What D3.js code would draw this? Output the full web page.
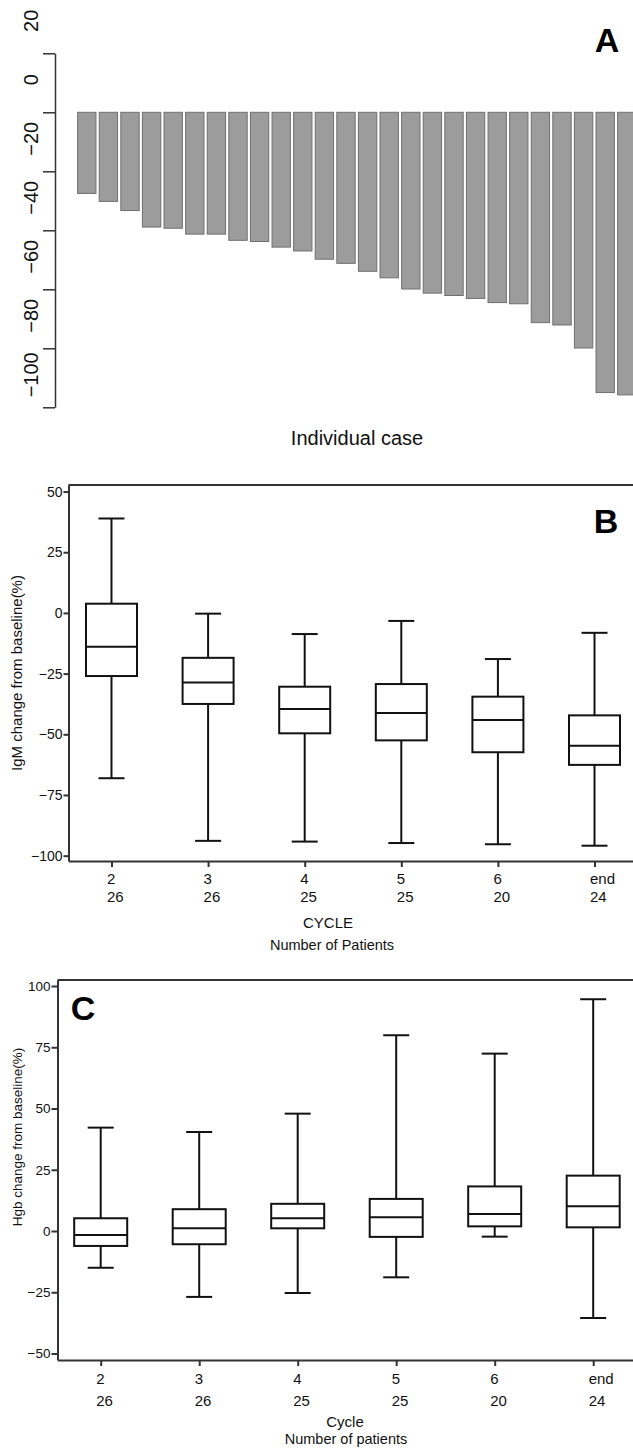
<!DOCTYPE html>
<html>
<head>
<meta charset="utf-8">
<script src="https://d3js.org/d3.v7.min.js"></script>
<style>
body { margin: 0; background: #fff; }
svg { display: block; font-family: "Liberation Sans", Arial, sans-serif; }
.axA path, .axA line { stroke: #333; stroke-width: 1.5; }
.frame path, .frame line, .edge { stroke: #333; stroke-width: 2; fill: none; }
.box line, .box rect { stroke: #111; stroke-width: 2; }
.box rect { fill: #fff; }
</style>
</head>
<body>
<script>
// panel A : IgM change per patient (%)
const caseChange = [-27.5, -30.2, -33.3, -38.9, -39.3, -41.3, -41.3, -43.4, -43.8, -45.7, -47.0, -49.8, -51.2,
                    -53.9, -56.1, -59.9, -61.3, -62.1, -63.1, -64.5, -64.9, -71.3, -72.1, -79.9, -95.0, -95.8];
const aTicks = [20, 0, -20, -40, -60, -80, -100];

// panel B : IgM change by cycle
const cycles = ["2", "3", "4", "5", "6", "end"];
const igmPatients = ["26", "26", "25", "25", "20", "24"];
const igmMin = [-68.1, -93.9, -94.2, -94.8, -95.3, -95.9];
const igmQ1  = [-26.0, -37.5, -49.6, -52.5, -57.4, -62.6];
const igmMed = [-13.9, -28.7, -39.6, -41.2, -44.1, -54.7];
const igmQ3  = [3.8, -18.5, -30.4, -29.3, -34.5, -42.2];
const igmMax = [38.9, -0.3, -8.7, -3.3, -19.0, -8.2];
const bTicks = [50, 25, 0, -25, -50, -75, -100];

// panel C : Hgb change by cycle
const hgbPatients = ["26", "26", "25", "25", "20", "24"];
const hgbMin = [-15.0, -26.9, -25.3, -18.9, -2.3, -35.5];
const hgbQ1  = [-6.1, -5.4, 1.1, -2.4, 1.9, 1.5];
const hgbMed = [-1.6, 1.1, 5.2, 5.6, 6.9, 10.1];
const hgbQ3  = [5.2, 8.9, 11.1, 13.1, 18.2, 22.6];
const hgbMax = [42.2, 40.4, 47.9, 79.9, 72.4, 94.6];
const cTicks = [100, 75, 50, 25, 0, -25, -50];

var w = 633, h = 1448;
var svg = d3.select("body").append("svg").attr("width", w).attr("height", h);
svg.append("rect").attr("width", w).attr("height", h).attr("fill", "#fff");

//////// panel A
var xA = d3.scaleBand()
  .domain(caseChange.map((d, i) => i))
  .range([76, 637.6])
  .paddingInner(0.15)
  .paddingOuter(0.075);
var yA = d3.scaleLinear().domain([-100, 20]).range([407.3, 53.3]);

svg.append("g").selectAll("rect")
  .data(caseChange)
  .join("rect")
  .attr("x", (d, i) => xA(i))
  .attr("y", yA(0))
  .attr("width", xA.bandwidth())
  .attr("height", d => yA(d) - yA(0))
  .attr("fill", "#9c9c9c")
  .attr("stroke", "#707070")
  .attr("stroke-width", 1);

var axA = svg.append("g")
  .attr("class", "axA")
  .attr("transform", "translate(55,0)")
  .call(d3.axisLeft(yA).tickValues(aTicks).tickSize(12).tickSizeOuter(0).tickFormat(d3.format("d")));
axA.selectAll("text")
  .attr("x", null).attr("dy", null)
  .attr("transform", "translate(-17,-33) rotate(-90)")
  .style("text-anchor", "middle")
  .style("font-size", "20px")
  .attr("fill", "#111");

svg.append("text").attr("x", 357).attr("y", 445)
  .style("text-anchor", "middle").style("font-size", "20px").attr("fill", "#111")
  .text("Individual case");
svg.append("text").attr("x", 607).attr("y", 52)
  .style("text-anchor", "middle").style("font-size", "34px").style("font-weight", "bold")
  .text("A");

//////// box plot helper
function boxPanel(opt) {
  var g = svg.append("g");
  var x = opt.x, y = opt.y;
  var rows = cycles.map((c, i) => ({c: c, min: opt.min[i], q1: opt.q1[i], med: opt.med[i], q3: opt.q3[i], max: opt.max[i]}));

  // frame: top edge + axes
  g.append("line").attr("class", "edge")
    .attr("x1", opt.left).attr("x2", w).attr("y1", opt.top).attr("y2", opt.top);

  var yAx = g.append("g").attr("class", "frame")
    .attr("transform", "translate(" + opt.left + ",0)")
    .call(d3.axisLeft(y).tickValues(opt.ticks).tickSize(opt.tickLen).tickPadding(opt.tickPad).tickSizeOuter(0));
  yAx.selectAll("text").style("font-size", opt.tickFont + "px").attr("fill", "#111");

  var xAx = g.append("g").attr("class", "frame")
    .attr("transform", "translate(0," + opt.bottom + ")")
    .call(d3.axisBottom(x).tickSize(6).tickSizeOuter(0).tickFormat(""));

  var box = g.selectAll("g.box").data(rows).join("g").attr("class", "box");
  box.append("line")
    .attr("x1", d => x(d.c)).attr("x2", d => x(d.c))
    .attr("y1", d => y(d.min)).attr("y2", d => y(d.max));
  box.append("line")
    .attr("x1", d => x(d.c) - opt.cap).attr("x2", d => x(d.c) + opt.cap)
    .attr("y1", d => y(d.max)).attr("y2", d => y(d.max));
  box.append("line")
    .attr("x1", d => x(d.c) - opt.cap).attr("x2", d => x(d.c) + opt.cap)
    .attr("y1", d => y(d.min)).attr("y2", d => y(d.min));
  box.append("rect")
    .attr("x", d => x(d.c) - opt.half).attr("width", opt.half * 2)
    .attr("y", d => y(d.q3)).attr("height", d => y(d.q1) - y(d.q3));
  box.append("line")
    .attr("x1", d => x(d.c) - opt.half).attr("x2", d => x(d.c) + opt.half)
    .attr("y1", d => y(d.med)).attr("y2", d => y(d.med));

  // two line category labels
  g.selectAll("text.cyc").data(cycles).join("text").attr("class", "cyc")
    .attr("x", d => x(d) - 4.5).attr("y", opt.row1)
    .style("font-size", "15px").attr("fill", "#111").text(d => d);
  g.selectAll("text.npt").data(opt.patients).join("text").attr("class", "npt")
    .attr("x", (d, i) => x(cycles[i]) - 4.5).attr("y", opt.row2)
    .style("font-size", "15px").attr("fill", "#111").text(d => d);

  g.append("text").attr("x", opt.t1x).attr("y", opt.t1y)
    .style("text-anchor", "middle").style("font-size", "15px").attr("fill", "#111").text(opt.title1);
  g.append("text").attr("x", opt.t2x).attr("y", opt.t2y)
    .style("text-anchor", "middle").style("font-size", "14.5px").attr("fill", "#111").text(opt.title2);

  g.append("text")
    .attr("transform", "translate(22," + opt.ylabY + ") rotate(-90)")
    .style("text-anchor", "middle").style("font-size", opt.ylabFont + "px").attr("fill", "#111")
    .text(opt.ylab);

  g.append("text").attr("x", opt.letterX).attr("y", opt.letterY)
    .style("text-anchor", "middle").style("font-size", "34px").style("font-weight", "bold")
    .text(opt.letter);
}

//////// panel B
var xB = d3.scalePoint().domain(cycles).range([68.5, 637.5]).padding(0.445);
var yB = d3.scaleLinear().domain([-102.2, 52.7]).range([861, 485]);
boxPanel({
  x: xB, y: yB, left: 68.5, top: 485, bottom: 861,
  ticks: bTicks, tickLen: 5, tickPad: 1, tickFont: 14,
  min: igmMin, q1: igmQ1, med: igmMed, q3: igmQ3, max: igmMax,
  half: 25.5, cap: 13,
  patients: igmPatients, row1: 884, row2: 902,
  title1: "CYCLE", t1x: 328, t1y: 928,
  title2: "Number of Patients", t2x: 332, t2y: 950,
  ylab: "IgM change from baseline(%)", ylabY: 673, ylabFont: 15,
  letter: "B", letterX: 606, letterY: 533
});

//////// panel C
var xC = d3.scalePoint().domain(cycles).range([57.5, 636.4]).padding(0.4386);
var yC = d3.scaleLinear().domain([-52.65, 102.45]).range([1360, 980]);
boxPanel({
  x: xC, y: yC, left: 57.5, top: 980, bottom: 1360,
  ticks: cTicks, tickLen: 6, tickPad: 1, tickFont: 13.5,
  min: hgbMin, q1: hgbQ1, med: hgbMed, q3: hgbQ3, max: hgbMax,
  half: 26.5, cap: 13,
  patients: hgbPatients, row1: 1383.5, row2: 1405.5,
  title1: "Cycle", t1x: 345, t1y: 1427,
  title2: "Number of patients", t2x: 346, t2y: 1444,
  ylab: "Hgb change from baseline(%)", ylabY: 1137, ylabFont: 13.5,
  letter: "C", letterX: 83, letterY: 1020
});
</script>
</body>
</html>
